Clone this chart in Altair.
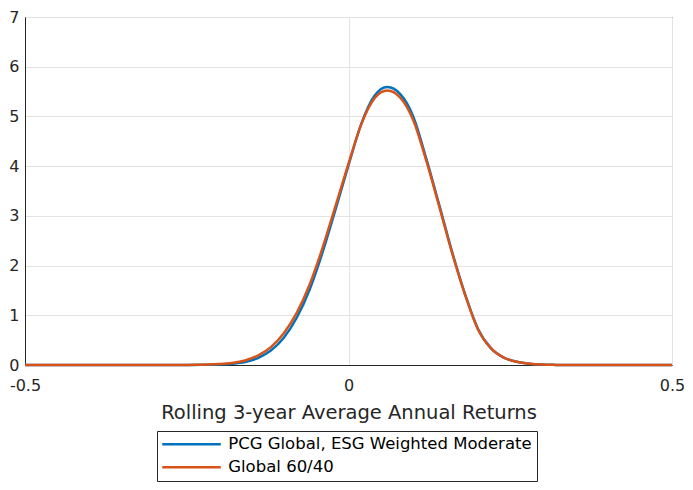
import altair as alt
import pandas as pd

# returns grid (x) and density values
x_vals = [-0.50, -0.30, -0.26, -0.24, -0.22, -0.20, -0.18, -0.16, -0.14, -0.12,
          -0.10, -0.08, -0.06, -0.04, -0.02, 0.00, 0.02, 0.04, 0.06, 0.08,
          0.10, 0.12, 0.14, 0.16, 0.18, 0.20, 0.22, 0.24, 0.26, 0.28,
          0.30, 0.32, 0.34, 0.50]
pcg_vals = [0, 0, 0, 0.001, 0.004, 0.01, 0.025, 0.06, 0.14, 0.29,
            0.55, 0.95, 1.52, 2.27, 3.13, 4.02, 4.86, 5.41, 5.59, 5.45,
            5.00, 4.16, 3.23, 2.28, 1.43, 0.73, 0.34, 0.15, 0.065, 0.025,
            0.008, 0.002, 0, 0]
g6040_vals = [0, 0, 0.001, 0.003, 0.008, 0.018, 0.04, 0.09, 0.19, 0.36,
              0.64, 1.05, 1.62, 2.36, 3.20, 4.05, 4.85, 5.36, 5.52, 5.38,
              4.93, 4.12, 3.20, 2.26, 1.42, 0.72, 0.34, 0.15, 0.065, 0.025,
              0.008, 0.002, 0, 0]
series = ["PCG Global, ESG Weighted Moderate", "Global 60/40"]
colors = ["#0072BD", "#D95319"]

df = pd.concat([
    pd.DataFrame({"x": x_vals, "y": pcg_vals, "series": series[0]}),
    pd.DataFrame({"x": x_vals, "y": g6040_vals, "series": series[1]}),
])

font = "DejaVu Sans"
dark = "#262626"

chart = alt.Chart(df).mark_line(strokeWidth=2.5, interpolate="monotone").encode(
    x=alt.X("x:Q", scale=alt.Scale(domain=[-0.5, 0.5], nice=False),
            axis=alt.Axis(title="Rolling 3-year Average Annual Returns", values=[-0.5, 0, 0.5],
                          labelExpr="datum.value < 0 ? '-' + format(-datum.value, '~g') : format(datum.value, '~g')",
                          labelFlush=False, labelOverlap=False, tickSize=0,
                          labelPadding=12, titlePadding=10, titleFontSize=19.5,
                          titleFontWeight="normal", labelFontSize=16)),
    y=alt.Y("y:Q", scale=alt.Scale(domain=[0, 7], nice=False),
            axis=alt.Axis(title=None, values=[0, 1, 2, 3, 4, 5, 6, 7], tickSize=0,
                          labelFlush=False, labelOverlap=False, labelPadding=6,
                          labelFontSize=16)),
    color=alt.Color("series:N", scale=alt.Scale(domain=series, range=colors),
                    legend=alt.Legend(title=None, orient="none", legendX=132, legendY=414,
                                      symbolType="M-4.5,0H4.5", symbolSize=169,
                                      symbolStrokeWidth=2.5, symbolOffset=21.25,
                                      labelFontSize=16.5, labelColor="black", labelOffset=28.5,
                                      padding=5, rowPadding=6, strokeColor=dark,
                                      fillColor="white", labelLimit=0)),
    detail="series:N",
).properties(
    width=647,
    height=348,
    autosize=alt.AutoSizeParams(type="none"),
    padding={"left": 17, "top": 9, "right": 13, "bottom": 117},
).configure_view(
    stroke=dark, strokeWidth=1
).configure_axis(
    labelFont=font, titleFont=font, labelColor=dark, titleColor=dark,
    domainColor=dark, gridColor="#e3e3e3", gridOpacity=1
).configure_legend(
    labelFont=font
)

chart.save("out.html", embed_options={"renderer": "svg", "actions": False})
